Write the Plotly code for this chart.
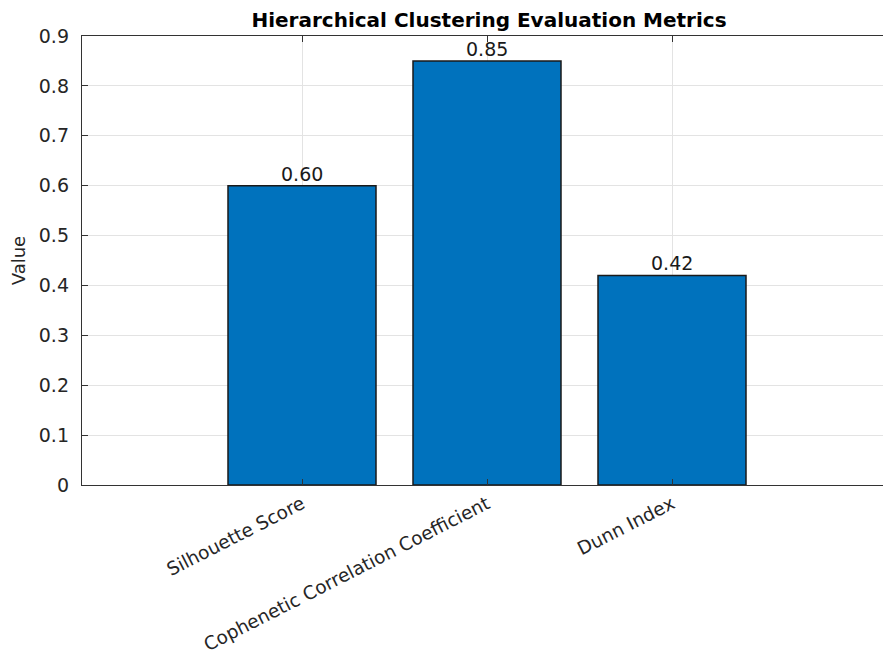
import plotly.graph_objects as go

categories = ["Silhouette Score", "Cophenetic Correlation Coefficient", "Dunn Index"]
values = [0.60, 0.85, 0.42]
positions = [1, 2, 3]
y_ticks = [0, 0.1, 0.2, 0.3, 0.4, 0.5, 0.6, 0.7, 0.8, 0.9]
y_tick_text = ["0", "0.1", "0.2", "0.3", "0.4", "0.5", "0.6", "0.7", "0.8", "0.9"]

FONT = "DejaVu Sans, Arial, sans-serif"
AX = "#333333"

fig = go.Figure()
fig.add_trace(go.Bar(
    x=positions, y=values, width=0.8,
    marker=dict(color="#0072BD", line=dict(color="#1a1a1a", width=1.5)),
))

for xp, v in zip(positions, values):
    fig.add_annotation(x=xp, y=v, text=f"{v:.2f}", showarrow=False,
                       xanchor="center", yanchor="bottom", yshift=-1,
                       font=dict(family=FONT, size=19, color="#1a1a1a"))

fig.update_layout(
    width=883, height=655,
    margin=dict(l=82, r=0, t=36, b=168),
    paper_bgcolor="white", plot_bgcolor="white",
    showlegend=False,
    title=dict(text="<b>Hierarchical Clustering Evaluation Metrics</b>",
               x=489 / 883, xanchor="center", y=1 - 20 / 655, yanchor="middle",
               font=dict(family=FONT, size=20, color="#000000")),
    xaxis=dict(range=[1 - 220 / 185, 3 + 211 / 185], tickvals=positions, ticktext=categories,
               tickangle=-27, ticks="inside", ticklen=6, tickcolor=AX,
               showline=True, linecolor=AX, linewidth=1.4, mirror="ticks",
               showgrid=True, gridcolor="#e3e3e3", gridwidth=1, zeroline=False,
               tickfont=dict(family=FONT, size=18.5, color="#262626")),
    yaxis=dict(range=[0, 0.9], tickvals=y_ticks, ticktext=y_tick_text,
               ticks="inside", ticklen=6, tickcolor=AX, ticklabelstandoff=8,
               showline=True, linecolor=AX, linewidth=1.4,
               showgrid=True, gridcolor="#e3e3e3", gridwidth=1, zeroline=False,
               tickfont=dict(family=FONT, size=19, color="#262626"),
               title=dict(text="Value", font=dict(family=FONT, size=18, color="#262626"), standoff=8)),
)

fig.write_html("out.html", config={"displayModeBar": False},
               post_script="document.body.style.margin='0';")
